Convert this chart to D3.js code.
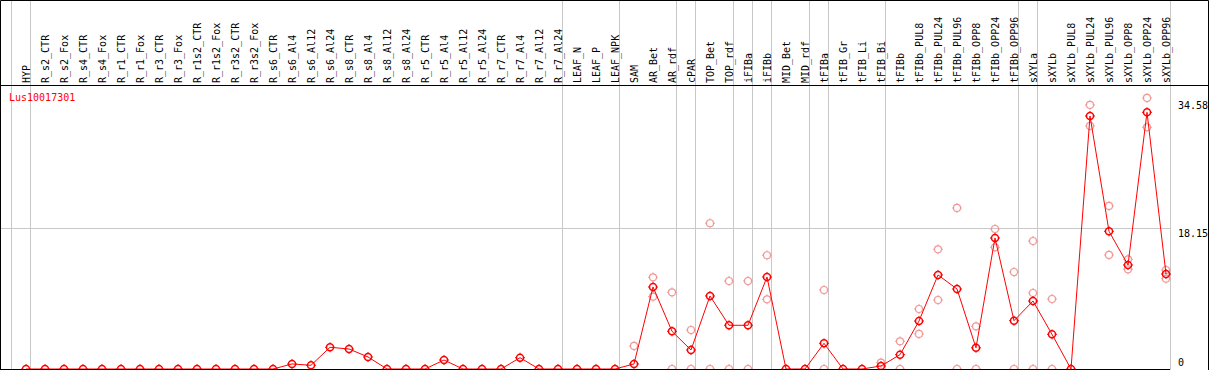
<!DOCTYPE html>
<html>
<head>
<meta charset="utf-8">
<script src="https://cdn.jsdelivr.net/npm/d3@7"></script>
<style>
  body { margin: 0; background: #fff; }
  svg { display: block; }
  text { font-family: "DejaVu Sans Mono", monospace; font-size: 10px; }
</style>
</head>
<body>
<svg id="chart" width="1209" height="370"></svg>
<script>
const gene = "Lus10017301";

const categories = [
  "HYP", "R_s2_CTR", "R_s2_Fox", "R_s4_CTR", "R_s4_Fox", "R_r1_CTR", "R_r1_Fox",
  "R_r3_CTR", "R_r3_Fox", "R_r1s2_CTR", "R_r1s2_Fox", "R_r3s2_CTR", "R_r3s2_Fox",
  "R_s6_CTR", "R_s6_Al4", "R_s6_Al12", "R_s6_Al24", "R_s8_CTR", "R_s8_Al4",
  "R_s8_Al12", "R_s8_Al24", "R_r5_CTR", "R_r5_Al4", "R_r5_Al12", "R_r5_Al24",
  "R_r7_CTR", "R_r7_Al4", "R_r7_Al12", "R_r7_Al24", "LEAF_N", "LEAF_P", "LEAF_NPK",
  "SAM", "AR_Bet", "AR_rdf", "cPAR", "TOP_Bet", "TOP_rdf", "iFIBa", "iFIBb",
  "MID_Bet", "MID_rdf", "tFIBa", "tFIB_Gr", "tFIB_Li", "tFIB_Bi", "tFIBb",
  "tFIBb_PUL8", "tFIBb_PUL24", "tFIBb_PUL96", "tFIBb_OPP8", "tFIBb_OPP24", "tFIBb_OPP96",
  "sXYLa", "sXYLb", "sXYLb_PUL8", "sXYLb_PUL24", "sXYLb_PUL96", "sXYLb_OPP8",
  "sXYLb_OPP24", "sXYLb_OPP96"
];

// mean expression per sample
const means = [
  0, 0, 0, 0, 0, 0, 0, 0, 0, 0, 0, 0, 0,
  0, 0.65, 0.48, 2.8, 2.58, 1.55, 0, 0, 0, 1.16, 0, 0, 0, 1.46, 0, 0,
  0, 0, 0,
  0.65, 10.58, 4.86, 2.45, 9.42, 5.64, 5.64, 11.87, 0, 0,
  3.31, 0, 0, 0.39, 1.85, 6.19, 12.13, 10.32, 2.73, 16.9, 6.23,
  8.77, 4.47, 0, 32.64, 17.76, 13.42, 33.11, 12.25
];

// individual replicates that show up apart from the mean
const replicates = [
  [], [], [], [], [], [], [], [], [], [], [], [], [],
  [], [], [], [], [], [], [], [], [], [], [], [], [], [], [], [],
  [], [], [],
  [2.97], [11.83, 9.33], [9.89, 0], [5.03, 0], [18.8, 0], [11.35, 0], [11.35, 0],
  [14.67, 8.99], [], [],
  [10.19, 0], [], [], [0.81], [3.57, 0], [7.74, 4.52], [15.44, 8.9], [20.77, 0],
  [5.5, 0], [18.06, 15.7], [12.51, 0],
  [16.51, 9.8, 0], [9.03, 0], [], [34.06, 31.35], [21.03, 14.71], [14.15, 12.86],
  [34.96, 31.18], [12.77, 11.65]
];

// first sample of each tissue group (grey separators)
const groupStarts = ["HYP", "R_s2_CTR", "LEAF_N", "SAM", "cPAR", "TOP_Bet", "iFIBa",
  "iFIBb", "MID_Bet", "tFIBa", "tFIB_Gr", "tFIBb", "sXYLa", "sXYLb"];

const yTicks = [0, 18.15, 34.58];

const svg = d3.select("#chart");
const W = +svg.attr("width"), H = +svg.attr("height");
const headerY = 85.5;

const x = d3.scaleBand()
  .domain(categories)
  .range([11, 11 + 19 * categories.length]);
const px = c => x(c) + 15;

const y = d3.scaleLinear()
  .domain([0, 34.58])
  .range([369, 100.9]);

// horizontal grid at the middle tick
svg.append("g")
  .selectAll("line")
  .data(yTicks.filter(v => v > 0 && v < 34.58))
  .enter().append("line")
    .attr("x1", 0).attr("x2", x.range()[1])
    .attr("y1", d => Math.round(y(d)) + 0.5)
    .attr("y2", d => Math.round(y(d)) + 0.5)
    .attr("stroke", "#c8c8c8");

// group separators
svg.append("g")
  .selectAll("line")
  .data(groupStarts.map(c => x(c)).concat([x.range()[1]]))
  .enter().append("line")
    .attr("x1", d => Math.round(d) + 0.5).attr("x2", d => Math.round(d) + 0.5)
    .attr("y1", 0).attr("y2", H)
    .attr("stroke", "#c8c8c8");

// sample labels
svg.append("g")
  .selectAll("text")
  .data(categories)
  .enter().append("text")
    .attr("transform", c => `translate(${px(c) + 4},83) rotate(-90)`)
    .attr("fill", "#000")
    .text(c => c);

// y labels on the right
svg.append("g")
  .selectAll("text")
  .data(yTicks)
  .enter().append("text")
    .attr("x", 1178)
    .attr("y", d => Math.min(y(d) + 8.5, 366))
    .attr("fill", "#000")
    .text(d => d);

function marker(g, color, width) {
  g.append("circle")
    .attr("r", 3.5)
    .attr("fill", "none")
    .attr("stroke", color)
    .attr("stroke-width", width);
  g.append("path")
    .attr("stroke", color)
    .attr("stroke-width", 1)
    .attr("d", "M0,-5V-3.5M0,3.5V5M-5,0H-3.5M3.5,0H5");
}

// replicate points
const reps = [];
categories.forEach((c, i) => replicates[i].forEach(v => reps.push({c: c, v: v})));
const rg = svg.append("g")
  .selectAll("g")
  .data(reps)
  .enter().append("g")
    .attr("transform", d => `translate(${px(d.c)},${y(d.v)})`);
marker(rg, "#f09898", 1.2);

// mean line
svg.append("path")
  .datum(means)
  .attr("fill", "none")
  .attr("stroke", "#ff0000")
  .attr("stroke-width", 1)
  .attr("d", d3.line()
    .x((d, i) => px(categories[i]))
    .y(d => y(d)));

const mg = svg.append("g")
  .selectAll("g")
  .data(means)
  .enter().append("g")
    .attr("transform", (d, i) => `translate(${px(categories[i])},${y(d)})`);
marker(mg, "#ff0000", 1.5);

svg.append("text")
  .attr("x", 9)
  .attr("y", 101)
  .attr("fill", "#ff0000")
  .text(gene);

// frame
svg.append("path")
  .attr("fill", "none")
  .attr("stroke", "#000")
  .attr("stroke-width", 1)
  .attr("d", `M0.5,${H}V0.5H${W - 0.5}V${H} M0,${headerY}H${W} M0,369.5H${x.range()[1]}`);
</script>
</body>
</html>
